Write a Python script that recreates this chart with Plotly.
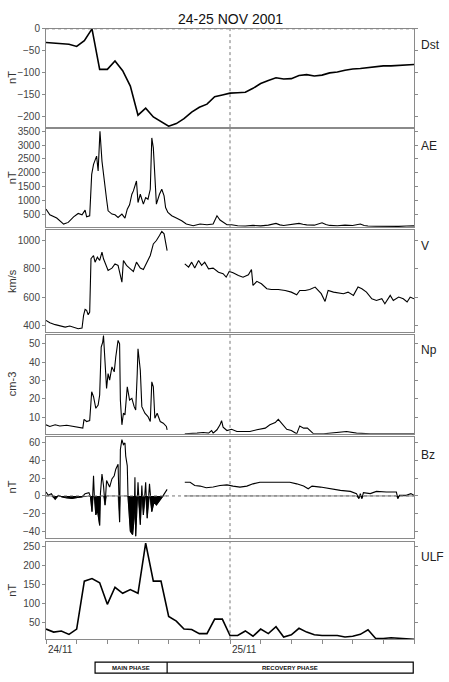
import plotly.graph_objects as go
from plotly.subplots import make_subplots

# hours since 24 Nov 2001 00 UT
dst_hours = list(range(49))
dst_values = [-31, -32, -34, -35, -40, -27, 0, -92, -92, -73, -95, -130, -196, -180, -200,
              -210, -221, -215, -204, -189, -178, -171, -154, -150, -146, -145, -144, -135,
              -124, -117, -111, -114, -113, -106, -104, -107, -105, -100, -98, -94, -91, -90,
              -88, -86, -84, -84, -83, -82, -81]

ae_hours = [0, 0.5, 1.4, 2.3, 2.9, 3.6, 4.2, 4.7, 5.1, 5.3, 5.7, 5.96, 6.2, 6.4, 6.6, 6.8, 7.04,
            7.3, 7.6, 7.9, 8.1, 8.6, 9.0, 9.4, 9.9, 10.3, 10.6, 10.9, 11.2, 11.4, 11.8, 12.0,
            12.3, 12.7, 13.0, 13.3, 13.6, 13.8, 14.0, 14.2, 14.4, 14.8, 15.1, 15.4, 15.6, 15.9,
            16.4, 17.0, 17.7, 18.3, 19.2, 20.1, 21.0, 21.8, 22.3, 22.7, 23.1, 23.6, 24.2, 25,
            26, 27, 28, 29, 30, 30.5, 31, 32, 33, 33.5, 34, 35, 36, 36.5, 37, 38, 39, 40, 41,
            41.5, 42, 43, 44, 45, 46, 47, 48]
ae_values = [680, 476, 356, 140, 200, 400, 524, 476, 644, 400, 440, 1940, 2300, 2480, 2600, 2060,
             3500, 2420, 1820, 1040, 620, 500, 476, 380, 500, 356, 680, 836, 1220, 1340, 1700,
             920, 1220, 860, 1100, 1040, 1400, 3260, 2900, 1580, 860, 1220, 1400, 1160, 740,
             560, 440, 356, 260, 140, 80, 140, 116, 140, 440, 284, 200, 116, 116, 80, 70, 90,
             75, 100, 164, 110, 90, 120, 164, 130, 110, 100, 188, 120, 90, 80, 100, 85, 140,
             90, 70, 60, 55, 60, 55, 70, 75]

v_hours = [0, 0.5, 1.2, 1.8, 2.5, 3.1, 3.8, 4.2, 4.7, 4.9, 5.1, 5.3, 5.5, 5.7, 5.87, 6.2, 6.4,
           6.7, 7.0, 7.3, 7.5, 7.8, 8.1, 8.6, 9.0, 9.4, 9.9, 10.1, 10.5, 11.0, 11.4, 11.8, 12.3,
           12.7, 13.1, 13.6, 14.0, 14.4, 14.8, 15.1, 15.4, 15.7, 15.8, 17.0, 18.1, 18.6, 19.0,
           19.4, 19.9, 20.3, 20.7, 21.2, 21.8, 22.5, 23.1, 23.5, 23.9, 24.4, 25.1, 25.7, 26.4,
           26.8, 27.0, 27.5, 28.1, 28.8, 29.4, 30.3, 31.2, 32.0, 32.7, 33.1, 33.8, 34.4, 35.1,
           35.5, 35.9, 36.4, 36.8, 37.5, 38.1, 38.8, 39.4, 40.1, 40.7, 41.2, 41.8, 42.5, 43.1,
           43.8, 44.2, 44.9, 45.3, 46.0, 46.6, 47.1, 47.5, 48.0]
v_values = [435, 419, 405, 395, 388, 395, 381, 376, 381, 470, 513, 506, 475, 494, 871, 894, 847,
            882, 859, 918, 871, 824, 788, 805, 835, 824, 706, 859, 824, 800, 781, 847, 805, 795,
            835, 894, 976, 1000, 1035, 1064, 1047, 976, 929, None, 835, 812, 847, 805, 859, 824,
            847, 800, 805, 776, 765, 741, 781, 772, 753, 741, 758, 795, 682, 711, 694, 659, 654,
            654, 647, 635, 616, 647, 647, 654, 671, 647, 624, 569, 647, 635, 631, 624, 635, 612,
            671, 659, 635, 588, 576, 588, 553, 612, 576, 600, 588, 565, 600, 588]

np_hours = [0, 0.5, 1.2, 1.8, 2.7, 3.6, 4.4, 4.8, 4.96, 5.3, 5.7, 5.96, 6.2, 6.5, 6.8, 7.0, 7.2,
            7.4, 7.5, 7.7, 7.9, 8.1, 8.3, 8.6, 8.9, 9.1, 9.4, 9.6, 9.7, 9.9, 10.1, 10.3, 10.6,
            10.9, 11.2, 11.5, 11.7, 11.9, 12.0, 12.3, 12.5, 12.9, 13.3, 13.6, 13.8, 14.0, 14.2,
            14.5, 14.9, 15.3, 15.7, 15.8, 17.0, 18.1, 18.8, 19.7, 20.5, 21.2, 21.6, 21.8, 22.3,
            22.7, 22.9, 23.1, 23.6, 24.2, 24.9, 25.3, 26.6, 27.5, 28.6, 29.2, 29.9, 30.3, 30.8,
            31.4, 32.0, 32.7, 33.1, 33.6, 34.1, 34.5, 34.9, 36.2, 37.5, 39.2, 40.5, 42.3, 44.4,
            48.0]
np_values = [5.9, 5.0, 5.9, 5.3, 5.7, 5.0, 4.6, 4.1, 8.9, 7.7, 8.2, 23.9, 21.2, 14.9, 16.7,
             22.1, 48.2, 50.9, 54.5, 39.2, 25.7, 33.8, 30.2, 37.4, 34.7, 42.8, 51.8, 50.0, 19.4,
             5.9, 12.2, 11.3, 26.6, 19.4, 20.3, 15.8, 14.0, 33.8, 47.3, 35.6, 15.8, 12.2, 10.4,
             7.7, 29.3, 26.6, 9.5, 12.2, 7.7, 6.8, 5.0, 3.2, None, 1.0, 1.0, 1.4, 1.7, 1.4, 2.8,
             1.4, 3.2, 5.9, 8.2, 4.6, 2.8, 3.5, 2.3, 2.3, 2.3, 3.2, 4.1, 5.9, 7.1, 8.9, 6.4, 3.5,
             2.8, 1.0, 5.3, 4.1, 4.1, 2.3, 1.0, 1.0, 1.4, 2.3, 1.4, 1.0, 1.0, 1.0]

bz_hours = [0, 0.3, 0.7, 1.2, 1.6, 2.1, 2.7, 3.4, 4.1, 4.7, 5.1, 5.6, 5.8, 6.0, 6.2, 6.3, 6.5,
            6.7, 7.0, 7.1, 7.3, 7.5, 7.7, 7.9, 8.3, 8.6, 8.9, 9.1, 9.4, 9.6, 9.7, 9.9, 10.1,
            10.3, 10.4, 10.6, 10.7, 10.9, 11.0, 11.3, 11.5, 11.6, 11.7, 11.9, 12.0, 12.3, 12.5,
            12.7, 13.0, 13.2, 13.5, 13.8, 14.1, 14.4, 14.9, 15.3, 15.8, 17.0, 18.1, 18.8, 19.4,
            20.1, 20.9, 21.8, 22.7, 23.6, 24.4, 25.3, 26.2, 27.0, 27.9, 29.2, 30.5, 31.8, 32.7,
            33.6, 34.2, 34.7, 35.8, 37.1, 38.4, 39.7, 40.5, 40.8, 41.0, 41.2, 41.4, 42.3, 43.1,
            44.4, 45.7, 45.9, 46.1, 47.0, 47.6, 48.0]
bz_values = [4.4, 0.7, 2.6, -3.7, 0.7, -1.1, -2.2, -2.9, -1.8, -1.1, 2.6, 3.7, -1.1, -17.5, 22.6,
             0.7, -21.2, -15.7, -32.9, 2.6, 24.5, 11.7, -10.2, 17.2, 9.9, 19.0, 22.6, 29.9, 35.4,
             -29.2, 51.8, 62.8, 57.3, 59.1, 44.5, 33.6, -1.1, -21.2, -39.4, -43.1, -24.8, 20.8,
             -44.9, -6.6, 15.3, -32.1, 11.7, -21.2, 15.3, -24.8, 13.5, -17.5, -6.6, -10.2, -4.7,
             0.7, 7.3, None, 15.3, 15.3, 11.7, 11.0, 9.1, 9.9, 11.7, 12.4, 11.0, 9.9, 11.0, 13.5,
             15.3, 15.3, 15.3, 15.3, 13.5, 11.0, 8.0, 11.0, 9.9, 8.0, 6.2, 5.1, 2.6, -2.9, 2.6,
             -2.9, 3.7, 2.6, 5.1, 4.4, 4.4, -2.9, 0.7, 0.7, 2.6, 0.7]

ulf_hours = list(range(49))
ulf_values = [34, 26, 29, 20, 34, 160, 167, 156, 99, 144, 128, 138, 128, 260, 160, 160, 67, 55,
              34, 33, 22, 22, 60, 60, 17, 17, 29, 15, 34, 22, 40, 13, 19, 36, 26, 19, 17, 17,
              17, 13, 15, 20, 32, 9, 9, 11, 10, 8, 7]

panels = [
    ("Dst", "nT", dst_hours, dst_values, [-223, 0], [0, -50, -100, -150, -200]),
    ("AE", "nT", ae_hours, ae_values, [20, 3580], [500, 1000, 1500, 2000, 2500, 3000, 3500]),
    ("V", "km/s", v_hours, v_values, [356, 1072], [400, 600, 800, 1000]),
    ("Np", "cm-3", np_hours, np_values, [1, 55], [10, 20, 30, 40, 50]),
    ("Bz", "nT", bz_hours, bz_values, [-47, 66], [-40, -20, 0, 20, 40, 60]),
    ("ULF", "nT", ulf_hours, ulf_values, [7, 263], [50, 100, 150, 200, 250]),
]
# panel top/bottom in pixels
px_rows = [(24, 123), (125, 224), (227, 329), (332, 432), (435, 537), (541, 639)]
H = 682
W = 449
x0, x1 = 46 / W, 414 / W

fig = make_subplots(rows=6, cols=1, shared_xaxes=True)
frame = "#8a8a8a"
annots = []
shapes = []
for i, (name, unit, xs, ys, yr, tv) in enumerate(panels, start=1):
    top, bot = px_rows[i - 1]
    dom = [1 - bot / H, 1 - top / H]
    lw = 1.6 if name in ("Dst", "ULF") else 1.1
    if name == "Bz":
        neg = [None if v is None else min(v, 0) for v in ys]
        fig.add_trace(go.Scatter(x=xs, y=neg, mode="lines", line=dict(color="black", width=0.5),
                                 fill="tozeroy", fillcolor="black", connectgaps=False,
                                 showlegend=False), row=i, col=1)
    fig.add_trace(go.Scatter(x=xs, y=ys, mode="lines", line=dict(color="black", width=lw),
                             connectgaps=False, showlegend=False), row=i, col=1)
    fig.update_yaxes(domain=dom, range=yr, tickvals=tv, ticks="outside", ticklen=3,
                     tickcolor=frame, showline=True, linecolor=frame, mirror="allticks",
                     showgrid=False, zeroline=False,
                     tickfont=dict(size=10, color="#444"), row=i, col=1)
    fig.update_xaxes(domain=[x0, x1], range=[0, 48], showline=True, linecolor=frame,
                     mirror=True, showgrid=False, zeroline=False, showticklabels=False,
                     ticks="outside" if i == 6 else "", tickvals=list(range(0, 49, 4)),
                     ticklen=4, tickcolor=frame, row=i, col=1)
    xref = "x" if i == 1 else f"x{i}"
    yref = "y" if i == 1 else f"y{i}"
    shapes.append(dict(type="line", xref=xref, yref=f"{yref} domain", x0=24, x1=24, y0=0, y1=1,
                       line=dict(color="#777", width=1, dash="dot")))
    if name in ("Bz", "Dst"):
        shapes.append(dict(type="line", xref=f"{xref} domain", yref=yref, x0=0, x1=1, y0=0, y1=0,
                           line=dict(color="#777", width=1, dash="dot")))
    annots.append(dict(text=unit, x=12 / W, y=(dom[0] + dom[1]) / 2, xref="paper", yref="paper",
                       xanchor="center", yanchor="middle", textangle=-90, showarrow=False,
                       font=dict(size=11, color="#333")))
label_y = [40, 142, 243, 348, 453, 556]
for (name, *_), ly in zip(panels, label_y):
    annots.append(dict(text=name, x=419 / W, y=1 - ly / H, xref="paper", yref="paper",
                       xanchor="left", yanchor="middle", showarrow=False,
                       font=dict(size=12, color="#222")))

for hh, lab in [(0, "24/11"), (24, "25/11")]:
    annots.append(dict(text=lab, x=hh, y=1 - 649 / H, xref="x6", yref="paper", xanchor="left",
                       yanchor="middle", showarrow=False, font=dict(size=10, color="#333")))

# phase bar
bar_y0, bar_y1 = 1 - 673 / H, 1 - 662 / H
shapes.append(dict(type="rect", xref="x6", yref="paper", x0=6.4, x1=47.9, y0=bar_y0, y1=bar_y1,
                   line=dict(color="black", width=1.2)))
shapes.append(dict(type="line", xref="x6", yref="paper", x0=15.8, x1=15.8, y0=bar_y0, y1=bar_y1,
                   line=dict(color="black", width=1.2)))
annots.append(dict(text="<b>MAIN PHASE</b>", x=(6.4 + 15.8) / 2, y=(bar_y0 + bar_y1) / 2,
                   xref="x6", yref="paper", xanchor="center", yanchor="middle",
                   showarrow=False, font=dict(size=6, color="#111")))
annots.append(dict(text="<b>RECOVERY PHASE</b>", x=(15.8 + 47.9) / 2, y=(bar_y0 + bar_y1) / 2,
                   xref="x6", yref="paper", xanchor="center", yanchor="middle",
                   showarrow=False, font=dict(size=6, color="#111")))

annots.append(dict(text="24-25 NOV 2001", x=(x0 + x1) / 2, y=1 - 14 / H, xref="paper",
                   yref="paper", xanchor="center", yanchor="middle", showarrow=False,
                   font=dict(size=14, color="#111")))

fig.update_layout(width=W, height=H, margin=dict(l=0, r=0, t=0, b=0),
                  paper_bgcolor="white", plot_bgcolor="white",
                  font=dict(family="Liberation Sans, Arial, sans-serif"),
                  annotations=annots, shapes=shapes, showlegend=False)
fig.write_html("out.html", config={"displayModeBar": False},
               post_script="document.body.style.margin='0';")
